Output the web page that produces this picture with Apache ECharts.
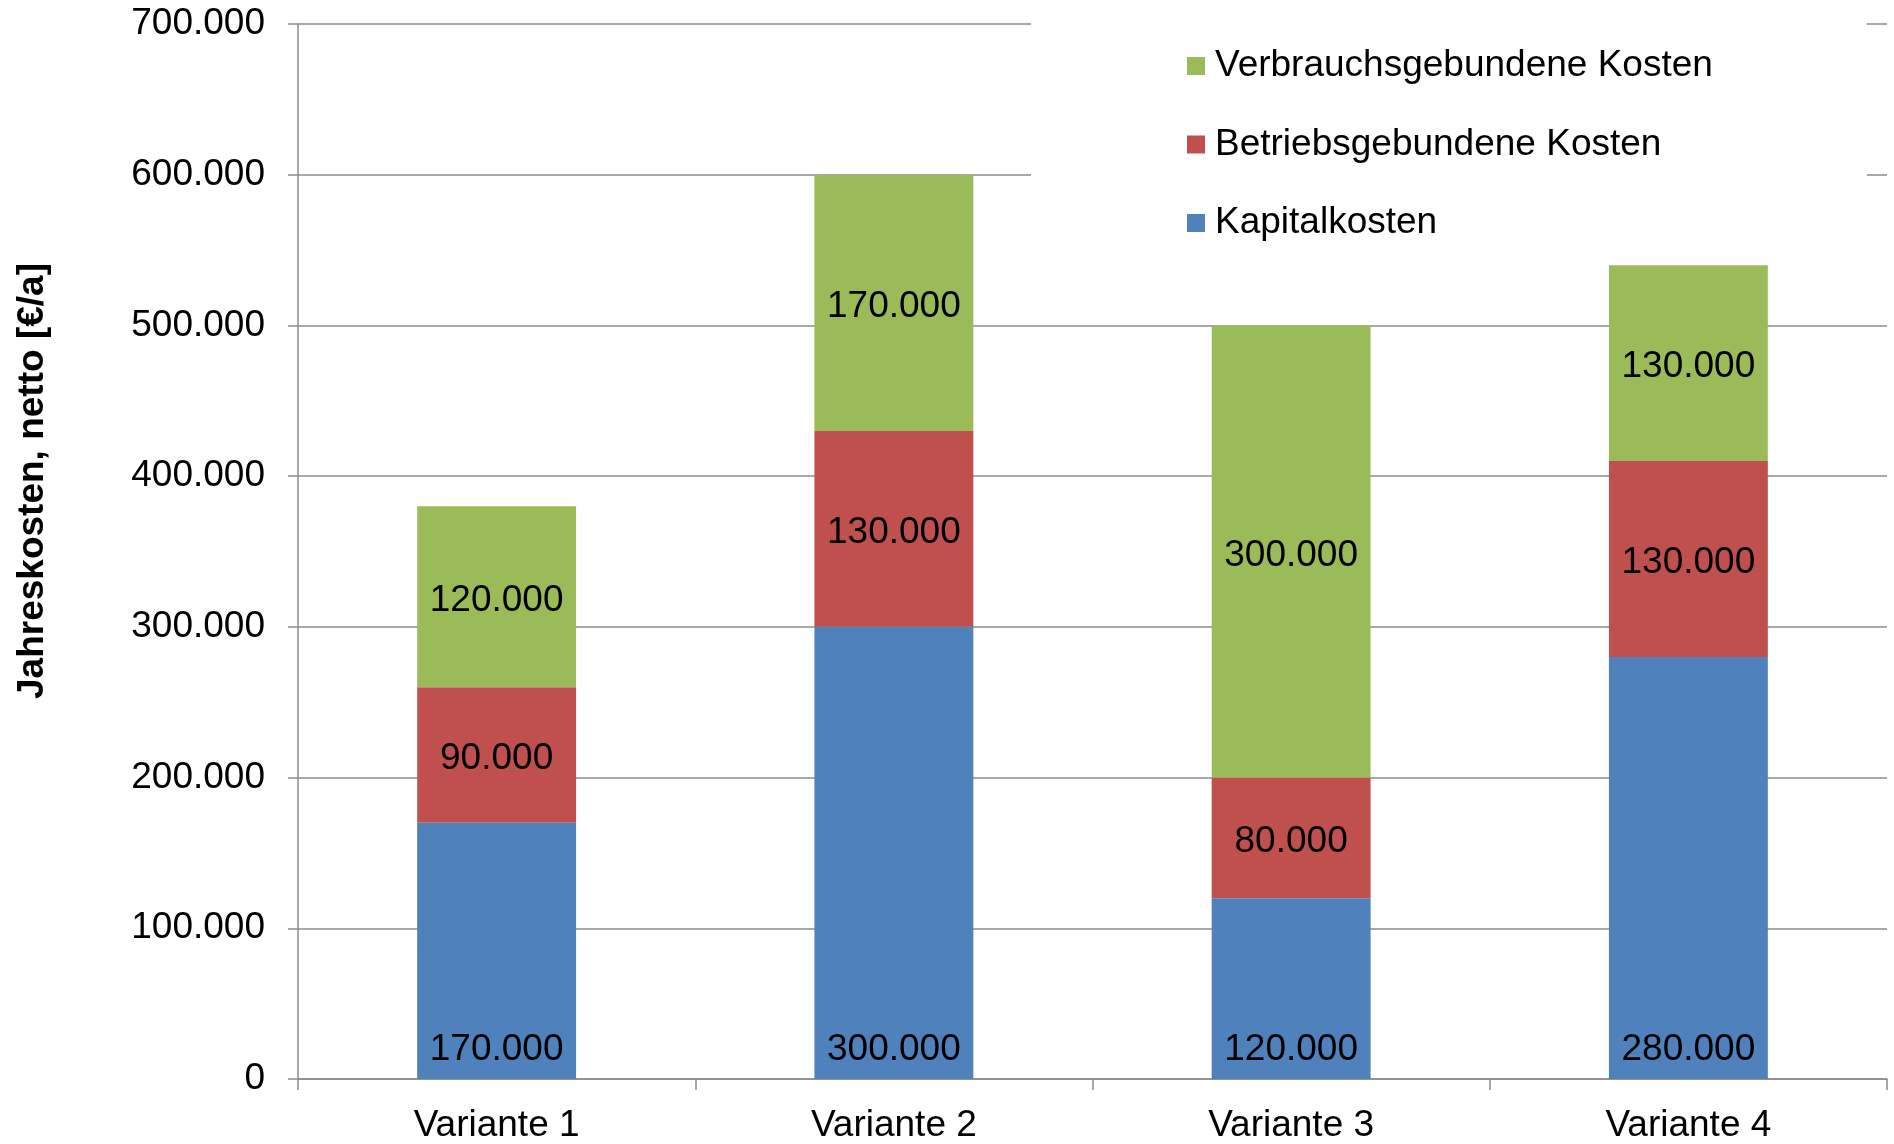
<!DOCTYPE html>
<html lang="de">
<head>
<meta charset="utf-8">
<title>Jahreskosten</title>
<script src="https://cdn.jsdelivr.net/npm/echarts@6/dist/echarts.min.js"></script>
<style>
  html, body { margin: 0; padding: 0; background: #ffffff; }
  #chart { width: 1894px; height: 1144px; }
</style>
</head>
<body>
<div id="chart"></div>
<script>
// Jahreskosten je Variante, netto in €/a
const categories = ['Variante 1', 'Variante 2', 'Variante 3', 'Variante 4'];
const kapitalkosten = [170000, 300000, 120000, 280000];
const betriebsgebundeneKosten = [90000, 130000, 80000, 130000];
const verbrauchsgebundeneKosten = [120000, 170000, 300000, 130000];

const seriesNames = {
  kapital: 'Kapitalkosten',
  betrieb: 'Betriebsgebundene Kosten',
  verbrauch: 'Verbrauchsgebundene Kosten'
};
const yAxisTitle = 'Jahreskosten, netto [€/a]';

const FONT = '"Liberation Sans", Arial, Helvetica, sans-serif';
const AXIS_GREY = '#8c8c8c';

// Tausendertrennzeichen als Punkt (deutsche Schreibweise)
function fmt(v) {
  const s = String(Math.round(v));
  return s.replace(/\B(?=(\d{3})+(?!\d))/g, '.');
}

const chart = echarts.init(document.getElementById('chart'), null, { renderer: 'canvas' });

const labelBase = {
  show: true,
  color: '#000000',
  fontFamily: FONT,
  fontSize: 37,
  formatter: p => fmt(p.value)
};

chart.setOption({
  animation: false,
  backgroundColor: '#ffffff',
  textStyle: { fontFamily: FONT },
  grid: { left: 298, right: 7, top: 24, bottom: 65, containLabel: false },
  legend: {
    orient: 'vertical',
    left: 1031,
    top: 0,
    padding: [46, 154, 20, 156],
    backgroundColor: '#ffffff',
    itemWidth: 18,
    itemHeight: 18,
    itemGap: 38.5,
    icon: 'rect',
    data: [seriesNames.verbrauch, seriesNames.betrieb, seriesNames.kapital],
    textStyle: {
      fontFamily: FONT,
      fontSize: 37,
      color: '#000000',
      lineHeight: 40,
      padding: [0, 0, 0, 5]
    }
  },
  xAxis: {
    type: 'category',
    data: categories,
    boundaryGap: true,
    axisLine: { show: true, lineStyle: { color: AXIS_GREY, width: 1.5 } },
    axisTick: { show: true, length: 11, alignWithLabel: false, lineStyle: { color: AXIS_GREY, width: 1.5 } },
    axisLabel: { color: '#000000', fontFamily: FONT, fontSize: 37, margin: 28 },
    splitLine: { show: false }
  },
  yAxis: {
    type: 'value',
    min: 0,
    max: 700000,
    interval: 100000,
    axisLine: { show: true, lineStyle: { color: AXIS_GREY, width: 1.5 } },
    axisTick: { show: true, length: 10, lineStyle: { color: AXIS_GREY, width: 1.5 } },
    axisLabel: {
      color: '#000000', fontFamily: FONT, fontSize: 37, margin: 33,
      padding: [3, 0, 0, 0],
      formatter: v => fmt(v)
    },
    splitLine: { show: true, lineStyle: { color: AXIS_GREY, width: 1.5 } }
  },
  graphic: [{
    type: 'text',
    x: 33,
    y: 481,
    rotation: Math.PI / 2,
    style: {
      text: yAxisTitle,
      fontFamily: FONT,
      fontSize: 37,
      fontWeight: 'bold',
      fill: '#000000',
      align: 'center',
      verticalAlign: 'middle'
    }
  }],
  series: [
    {
      name: seriesNames.kapital,
      type: 'bar',
      stack: 'kosten',
      barWidth: '40%',
      data: kapitalkosten,
      itemStyle: { color: '#4f81bd' },
      label: Object.assign({}, labelBase, { position: 'insideBottom', distance: 11 })
    },
    {
      name: seriesNames.betrieb,
      type: 'bar',
      stack: 'kosten',
      barWidth: '40%',
      data: betriebsgebundeneKosten,
      itemStyle: { color: '#c0504d' },
      label: Object.assign({}, labelBase, { position: 'inside', offset: [0, 4] })
    },
    {
      name: seriesNames.verbrauch,
      type: 'bar',
      stack: 'kosten',
      barWidth: '40%',
      data: verbrauchsgebundeneKosten,
      itemStyle: { color: '#9bbb59' },
      label: Object.assign({}, labelBase, { position: 'inside', offset: [0, 4] })
    }
  ]
});
</script>
</body>
</html>
